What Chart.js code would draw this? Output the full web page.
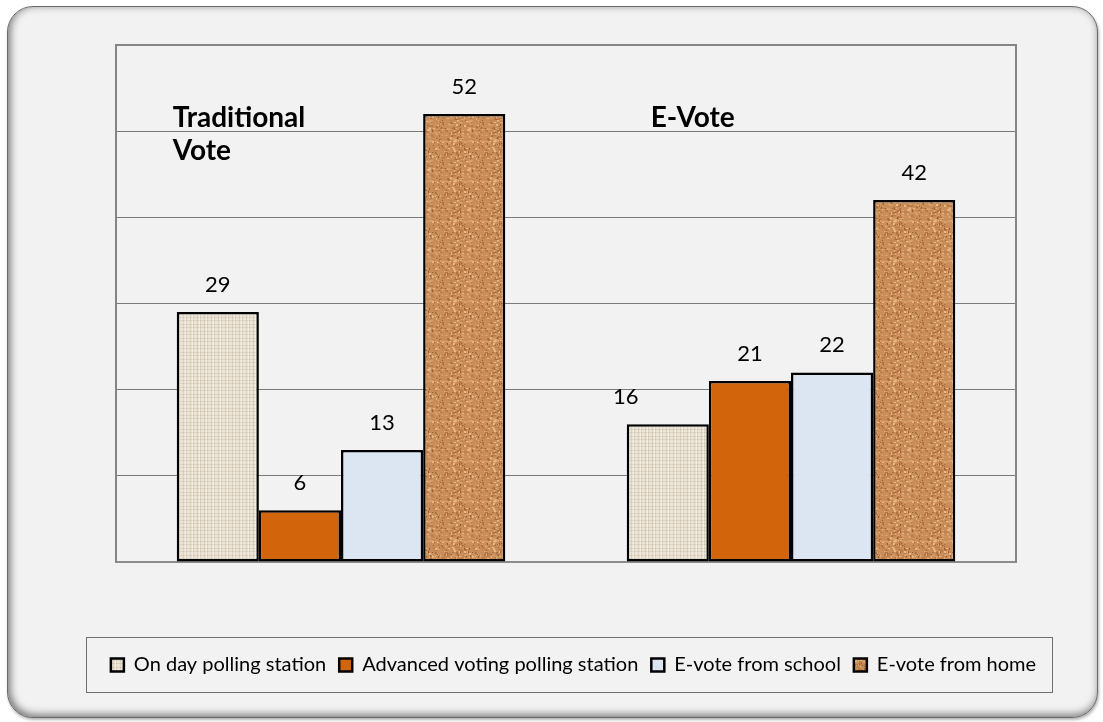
<!DOCTYPE html>
<html>
<head>
<meta charset="utf-8">
<title>Traditional vote vs E-Vote</title>
<script src="https://cdn.jsdelivr.net/npm/chart.js"></script>
<style>
html, body { margin: 0; padding: 0; background: #fff; }
#wrap { position: relative; width: 1103px; height: 722px; }
#frame {
    position: absolute; left: 7px; top: 6px; width: 1091px; height: 712px;
    box-sizing: border-box; border-radius: 26px; background: #f2f2f2;
    border: 1px solid #6a6a6a;
    box-shadow: inset 2px -2px 9px rgba(0, 0, 0, 0.55), 1px 2px 3px rgba(0, 0, 0, 0.3);
}
#votechart { position: absolute; left: 0; top: 0; }
</style>
</head>
<body>
<div id="wrap">
    <div id="frame"></div>
    <canvas id="votechart" width="1103" height="722"></canvas>
</div>
<script>
// data
var categories = [['Traditional', 'Vote'], 'E-Vote'];
var seriesNames = ['On day polling station', 'Advanced voting polling station', 'E-vote from school', 'E-vote from home'];
var onDayStation = [29, 16];
var advancedStation = [6, 21];
var fromSchool = [13, 22];
var fromHome = [52, 42];
var yTicks = [0, 10, 20, 30, 40, 50, 60];

var canvas = document.getElementById('votechart');
var ctx = canvas.getContext('2d');

// linen texture
function linenPattern() {
    var t = document.createElement('canvas');
    t.width = 14; t.height = 14;
    var g = t.getContext('2d');
    g.fillStyle = '#ece5d6';
    g.fillRect(0, 0, 14, 14);
    g.fillStyle = 'rgba(160, 145, 120, 0.22)';
    [1, 4, 8, 11].forEach(function (x) { g.fillRect(x, 0, 1, 14); });
    [2, 5, 9, 12].forEach(function (y) { g.fillRect(0, y, 14, 1); });
    g.fillStyle = 'rgba(255, 255, 255, 0.35)';
    [3, 10].forEach(function (x) { g.fillRect(x, 0, 1, 14); });
    return ctx.createPattern(t, 'repeat');
}

// cork texture (fixed blotch layout)
function corkPattern() {
    var t = document.createElement('canvas');
    t.width = 40; t.height = 40;
    var g = t.getContext('2d');
    g.fillStyle = '#c98d59';
    g.fillRect(0, 0, 40, 40);
    var tones = ['#e0ad7b', '#b27140', '#d79f69', '#9a5a2e', '#e6b888', '#bd7d4a'];
    var s = 11;
    for (var i = 0; i < 260; i++) {
        s = (s * 137 + 59) % 1999;
        var x = s % 40;
        s = (s * 137 + 59) % 1999;
        var y = s % 40;
        g.fillStyle = tones[i % tones.length];
        var w = 1 + (i % 3), h = 1 + ((i >> 1) % 2);
        g.fillRect(x, y, w, h);
    }
    return ctx.createPattern(t, 'repeat');
}

var seriesColors = [linenPattern(), '#d2640b', '#dce6f2', corkPattern()];
var seriesValues = [onDayStation, advancedStation, fromSchool, fromHome];

var datasets = seriesNames.map(function (name, i) {
    return {
        label: name,
        data: seriesValues[i],
        backgroundColor: seriesColors[i],
        borderColor: '#000',
        borderWidth: 2.5,
        borderSkipped: false,
        yAxisID: 'y'
    };
});

// value labels above bars
var valueLabels = {
    id: 'valueLabels',
    afterDatasetsDraw: function (chart) {
        var c = chart.ctx;
        c.save();
        c.font = '22px Lato';
        c.fillStyle = '#000';
        c.textAlign = 'center';
        c.textBaseline = 'alphabetic';
        chart.data.datasets.forEach(function (ds, di) {
            chart.getDatasetMeta(di).data.forEach(function (bar, i) {
                var dx = (di === 0 && i === 1) ? -42 : 0;
                c.fillText(ds.data[i], bar.x + dx, bar.y - 20);
            });
        });
        c.restore();
    }
};

// group titles, plot frame and legend frame
var decorations = {
    id: 'decorations',
    afterDraw: function (chart) {
        var c = chart.ctx;
        var area = chart.chartArea;
        c.save();
        c.strokeStyle = '#858585';
        c.lineWidth = 2;
        c.beginPath();
        c.moveTo(area.left, area.bottom);
        c.lineTo(area.left, area.top);
        c.lineTo(area.right, area.top);
        c.lineTo(area.right, area.bottom);
        c.stroke();

        c.font = 'bold 28px Lato';
        c.fillStyle = '#000';
        c.textAlign = 'left';
        var firstBars = chart.getDatasetMeta(0).data;
        var shift = [-4, 24];
        categories.forEach(function (cat, i) {
            var lines = [].concat(cat);
            var x = firstBars[i].x - firstBars[i].width / 2 + shift[i];
            lines.forEach(function (line, k) {
                c.fillText(line, x, area.top + 73 + k * 33);
            });
        });

        var boxes = chart.legend.legendHitBoxes;
        if (boxes && boxes.length) {
            var l = Math.min.apply(null, boxes.map(function (b) { return b.left; }));
            var r = Math.max.apply(null, boxes.map(function (b) { return b.left + b.width; }));
            var mid = boxes[0].top + boxes[0].height / 2;
            c.strokeStyle = '#6f6f6f';
            c.lineWidth = 1;
            c.strokeRect(Math.round(l - 25) + 0.5, Math.round(mid - 28) + 0.5, Math.round(r - l + 41), 55);
        }
        c.restore();
    }
};

var myChart = new Chart(canvas, {
    type: 'bar',
    data: {
        labels: categories,
        datasets: datasets
    },
    options: {
        responsive: false,
        animation: false,
        devicePixelRatio: 1,
        layout: {
            padding: { left: 44, right: 0, top: 45, bottom: 37 }
        },
        datasets: {
            bar: { categoryPercentage: 0.73, barPercentage: 1.0 }
        },
        scales: {
            x: {
                ticks: { display: false },
                grid: { display: false, drawTicks: false },
                border: { display: true, color: '#8c8c8c', width: 2 },
                afterFit: function (scale) { scale.height = 80; }
            },
            y: {
                position: 'left',
                min: yTicks[0],
                max: yTicks[yTicks.length - 1],
                ticks: { display: false, stepSize: yTicks[1] - yTicks[0] },
                grid: { color: '#7a7a7a', lineWidth: 1, drawTicks: false },
                border: { display: false },
                afterFit: function (scale) { scale.width = 72; }
            },
            yRight: {
                position: 'right',
                min: yTicks[0],
                max: yTicks[yTicks.length - 1],
                ticks: { display: false },
                grid: { display: false, drawTicks: false },
                border: { display: false },
                afterFit: function (scale) { scale.width = 87; }
            }
        },
        plugins: {
            legend: {
                display: true,
                position: 'bottom',
                labels: {
                    boxWidth: 13,
                    boxHeight: 13,
                    padding: 13,
                    color: '#000',
                    font: { family: 'Lato', size: 20 }
                }
            },
            title: { display: false },
            tooltip: { enabled: false }
        }
    },
    plugins: [valueLabels, decorations]
});
</script>
</body>
</html>
